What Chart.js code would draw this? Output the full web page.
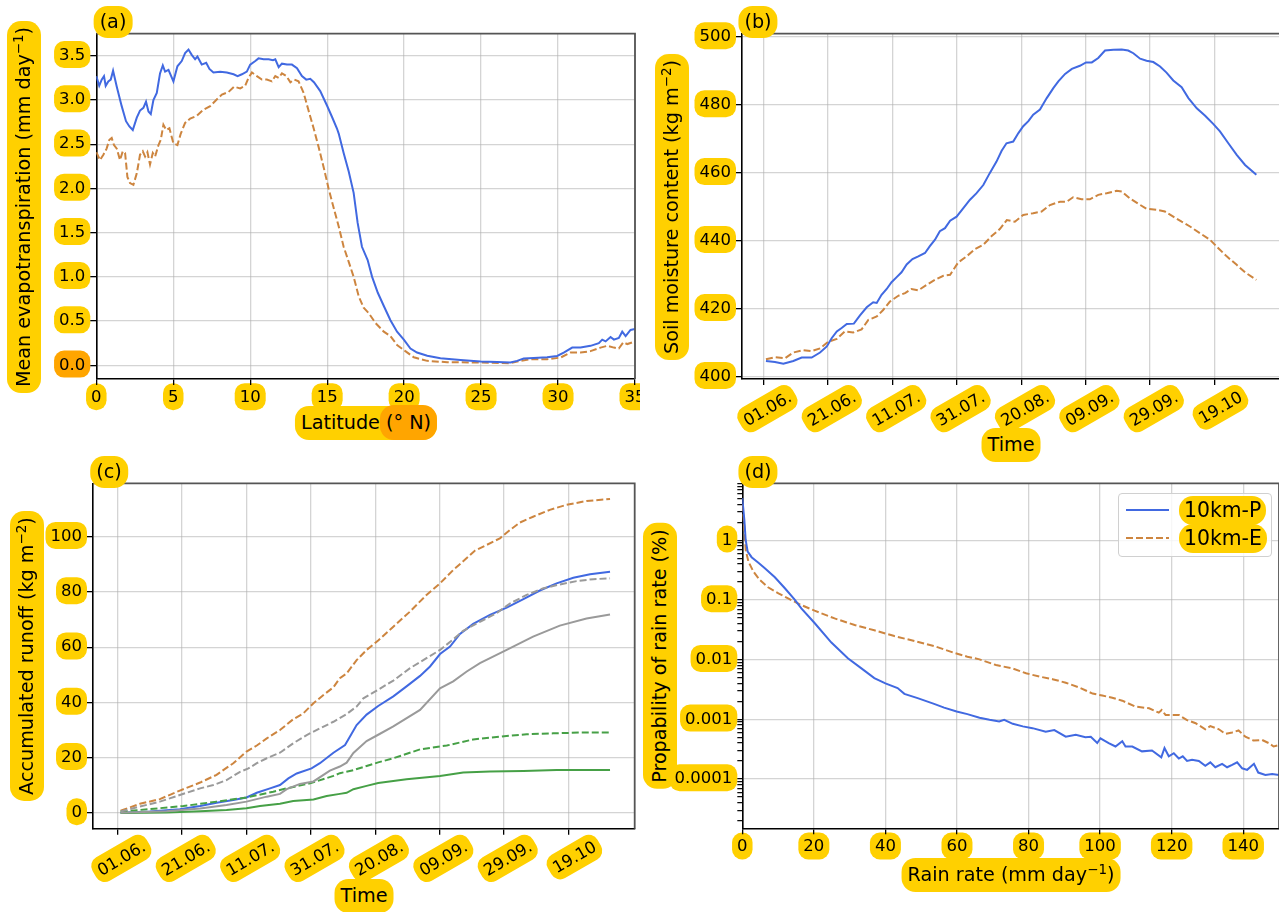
<!DOCTYPE html>
<html>
<head>
<meta charset="utf-8">
<title>Evapotranspiration, soil moisture, runoff and rain rate</title>
<script src="https://cdn.jsdelivr.net/npm/chart.js@4.4.0/dist/chart.umd.min.js"></script>
<style>
  html, body { margin: 0; padding: 0; background: #fff; width: 1279px; height: 912px; overflow: hidden; }
  body { position: relative; font-family: 'DejaVu Sans', sans-serif; color: #000; }
  canvas { position: absolute; z-index: 1; }
  .t { position: absolute; z-index: 2; white-space: nowrap; font-size: 19.2px; line-height: 22px; transform: translate(-50%, -50%); }
  .t.v { transform: translate(-50%, -50%) rotate(-90deg); }
  .t.under { z-index: 0; }
  .hl { display: inline-block; background: #FFD000; border-radius: 14px; padding: 6px 6px; }
  .or { background: #FFA500; border-radius: 14px; padding: 6px 6px; margin: 0 -6px 0 -6px; }
  sup { font-size: 0.7em; line-height: 0; vertical-align: 0.5em; }
  #legend { position: absolute; z-index: 2; left: 1118px; top: 493px; width: 152px; height: 62px; border: 1px solid #d0d0d0; border-radius: 4px; background: rgba(255,255,255,.8); }
  #legend .ln { position: absolute; left: 7px; width: 43px; height: 2px; }
  #legend .lt { position: absolute; left: 60px; font-size: 20.4px; line-height: 23px; background: #FFD000; border-radius: 14px; padding: 3px 5px; }
</style>
</head>
<body>

<canvas id="ca" width="640" height="450" style="left:0;top:0"></canvas>
<canvas id="cb" width="642" height="450" style="left:640px;top:0"></canvas>
<canvas id="cc" width="640" height="462" style="left:0;top:450px"></canvas>
<canvas id="cd" width="641" height="462" style="left:640px;top:450px"></canvas>

<!-- panel labels and axis titles -->
<div class="t" style="left:113px;top:22px"><span class="hl" style="padding:5px 6px">(a)</span></div>
<div class="t" style="left:758px;top:22px"><span class="hl" style="padding:5px 6px">(b)</span></div>
<div class="t" style="left:109px;top:472px"><span class="hl" style="padding:5px 6px">(c)</span></div>
<div class="t" style="left:758px;top:472px"><span class="hl" style="padding:5px 6px">(d)</span></div>

<div class="t v" style="left:23.5px;top:207px"><span class="hl">Mean evapotranspiration (mm day<sup>−1</sup>)</span></div>
<div class="t" style="left:366px;top:423px"><span class="hl">Latitude <span class="or">(° N)</span></span></div>

<div class="t v" style="left:672px;top:207px"><span class="hl">Soil moisture content (kg m<sup>−2</sup>)</span></div>
<div class="t" style="left:1011px;top:445px"><span class="hl">Time</span></div>

<div class="t v" style="left:27px;top:656px"><span class="hl">Accumulated runoff (kg m<sup>−2</sup>)</span></div>
<div class="t" style="left:364px;top:896px"><span class="hl">Time</span></div>

<div class="t v under" style="left:660px;top:656px"><span class="hl">Propability of rain rate (%)</span></div>
<div class="t" style="left:1011px;top:875px"><span class="hl">Rain rate (mm day<sup>−1</sup>)</span></div>

<div id="legend">
  <div class="ln" style="top:15px;background:#4169E1"></div>
  <div class="ln" style="top:43px;background:repeating-linear-gradient(90deg,#CD853F 0 7px,transparent 7px 10px)"></div>
  <span class="lt" style="top:2px">10km-P</span>
  <span class="lt" style="top:30px">10km-E</span>
</div>

<script>
// ── Data (a): mean evapotranspiration vs latitude ───────────
const latP = [0, 0.19, 0.35, 0.5, 0.61, 0.78, 0.94, 1.09, 1.33, 1.65, 1.93, 2.15, 2.37, 2.63, 2.84, 3.06, 3.23, 3.39, 3.54, 3.71,
  3.93, 4.14, 4.32, 4.47, 4.69, 5.01, 5.27, 5.55, 5.77, 5.99, 6.2, 6.42, 6.57, 6.85, 7.14, 7.35, 7.61, 8.05, 8.48, 8.92,
  9.18, 9.46, 9.78, 10.0, 10.33, 10.54, 10.87, 11.2, 11.48, 11.63, 11.85, 12.06, 12.39, 12.71, 13.04, 13.36, 13.64, 13.9, 14.14, 14.55,
  14.98, 15.31, 15.63, 15.75, 16.07, 16.4, 16.72, 16.98, 17.26, 17.63, 17.92, 18.29, 18.68, 19.11, 19.54, 19.98, 20.41, 20.84, 21.5, 22.36,
  23.66, 24.96, 26.05, 26.9, 27.34, 27.77, 28.42, 29.29, 29.94, 30.37, 30.92, 31.46, 32.11, 32.65, 32.87, 33.09, 33.41, 33.63, 33.95, 34.17,
  34.39, 34.71, 35];
const etP = [3.27, 3.16, 3.23, 3.27, 3.16, 3.21, 3.23, 3.33, 3.15, 2.93, 2.76, 2.70, 2.66, 2.80, 2.88, 2.91, 2.98, 2.87, 2.84, 3.00,
  3.08, 3.30, 3.39, 3.32, 3.34, 3.21, 3.38, 3.44, 3.53, 3.57, 3.51, 3.46, 3.49, 3.40, 3.42, 3.35, 3.31, 3.32, 3.31, 3.29,
  3.27, 3.29, 3.32, 3.40, 3.44, 3.47, 3.46, 3.46, 3.45, 3.46, 3.37, 3.41, 3.40, 3.40, 3.36, 3.27, 3.23, 3.24, 3.20, 3.10,
  2.94, 2.81, 2.68, 2.62, 2.40, 2.19, 1.95, 1.61, 1.34, 1.19, 1.00, 0.82, 0.67, 0.51, 0.38, 0.29, 0.19, 0.144, 0.107, 0.08,
  0.061, 0.042, 0.038, 0.031, 0.05, 0.076, 0.083, 0.091, 0.106, 0.144, 0.2, 0.2, 0.22, 0.25, 0.29, 0.27, 0.32, 0.29, 0.31, 0.38,
  0.33, 0.40, 0.41];
const latE = [0, 0.24, 0.46, 0.67, 0.85, 1.0, 1.15, 1.33, 1.54, 1.72, 1.87, 2.02, 2.19, 2.41, 2.63, 2.84, 3.02, 3.17, 3.32, 3.49,
  3.67, 3.82, 4.04, 4.19, 4.36, 4.54, 4.75, 5.01, 5.27, 5.49, 5.77, 6.1, 6.53, 6.96, 7.4, 7.79, 8.16, 8.59, 8.96, 9.35,
  9.67, 9.89, 10.11, 10.43, 10.76, 11.08, 11.41, 11.63, 11.85, 12.06, 12.35, 12.61, 12.87, 13.14, 13.47, 13.79, 14.12, 14.44, 14.77, 15.09,
  15.42, 15.75, 16.07, 16.4, 16.72, 17.05, 17.37, 17.7, 18.13, 18.68, 19.11, 19.54, 20.08, 20.63, 21.5, 22.8, 24.96, 26.9, 27.55, 28.2,
  29.29, 30.16, 30.81, 31.46, 32.11, 32.76, 33.2, 33.63, 33.95, 34.24, 34.5, 35];
const etE = [2.41, 2.32, 2.38, 2.45, 2.55, 2.57, 2.49, 2.45, 2.32, 2.42, 2.40, 2.13, 2.06, 2.04, 2.17, 2.38, 2.42, 2.36, 2.41, 2.27,
  2.40, 2.36, 2.49, 2.55, 2.72, 2.66, 2.68, 2.51, 2.49, 2.62, 2.74, 2.79, 2.82, 2.89, 2.93, 3.00, 3.06, 3.09, 3.15, 3.13,
  3.16, 3.25, 3.31, 3.27, 3.23, 3.23, 3.21, 3.27, 3.25, 3.30, 3.27, 3.20, 3.23, 3.21, 3.08, 2.88, 2.68, 2.47, 2.24, 2.00,
  1.78, 1.57, 1.34, 1.17, 1.00, 0.78, 0.65, 0.59, 0.48, 0.38, 0.33, 0.23, 0.16, 0.09, 0.05, 0.035, 0.031, 0.024, 0.05, 0.068,
  0.068, 0.087, 0.144, 0.144, 0.16, 0.2, 0.22, 0.2, 0.19, 0.26, 0.24, 0.27];

// ── Data (b): soil moisture, days after 1 June ──────────────
const smDayP = [0.7, 3.5, 6.1, 9.2, 11.8, 14.9, 17.5, 19.6, 21.1, 22.7, 24.2, 25.8, 28.0, 29.9, 32.0, 34.0, 35.1, 36.6, 38.2, 39.7,
  41.3, 42.8, 44.4, 46.2, 48.0, 50.1, 51.6, 53.2, 54.7, 56.3, 57.9, 59.9, 62.0, 64.0, 66.1, 68.2, 70.2, 72.3, 73.9, 75.4,
  77.5, 79.1, 80.6, 82.2, 83.7, 85.8, 87.9, 90.0, 91.5, 93.6, 95.7, 98.2, 100.1, 101.9, 103.9, 106.0, 108.6, 111.2, 113.2, 114.8,
  116.9, 118.9, 121.0, 123.1, 125.1, 127.2, 129.8, 131.9, 134.5, 137.1, 139.6, 141.7, 144.3, 146.9, 149.5, 153.0];
const smP = [404.6, 404.3, 403.8, 404.6, 405.6, 405.6, 407.1, 408.9, 411.3, 413.3, 414.3, 415.5, 415.6, 418.0, 420.4, 421.9, 421.7, 424.1, 425.8, 427.8,
  429.3, 430.7, 433.0, 434.6, 435.4, 436.4, 438.4, 440.3, 442.8, 443.7, 445.9, 447.1, 449.6, 452.0, 454.0, 456.4, 459.9, 463.3, 466.5, 468.7,
  469.2, 471.7, 473.7, 475.2, 477.1, 478.6, 482.0, 485.0, 486.9, 489.1, 490.6, 491.5, 492.5, 492.5, 493.8, 496.0, 496.2, 496.3, 496.0, 495.2,
  493.6, 493.0, 492.6, 491.3, 489.5, 487.2, 485.2, 482.0, 479.0, 476.8, 474.4, 472.2, 468.7, 465.3, 462.3, 459.4];
const smDayE = [0.7, 3.5, 6.6, 9.2, 12.3, 14.9, 17.5, 20.1, 22.7, 25.2, 27.8, 30.4, 32.5, 35.1, 37.1, 39.2, 41.8, 43.9, 45.9, 48.0,
  50.6, 53.2, 55.8, 57.9, 60.4, 63.0, 65.6, 68.2, 70.8, 73.4, 75.5, 78.0, 80.6, 83.7, 86.3, 88.9, 92.0, 94.1, 96.1, 98.7,
  101.3, 103.9, 106.5, 109.6, 111.2, 113.7, 116.3, 118.9, 122.0, 124.6, 127.2, 129.8, 132.4, 135.5, 138.6, 141.2, 143.8, 146.9, 149.5, 153.0];
const smE = [405.1, 405.7, 405.4, 407.1, 407.8, 407.5, 408.3, 410.3, 411.1, 413.3, 413.0, 413.9, 416.7, 417.7, 419.6, 422.1, 423.8, 424.6, 425.8, 425.4,
  427.0, 428.5, 429.7, 430.0, 433.6, 435.4, 437.5, 438.8, 441.4, 443.5, 446.1, 445.6, 447.6, 448.1, 448.6, 450.5, 451.5, 451.5, 452.8, 452.2,
  452.2, 453.5, 454.0, 454.7, 454.5, 452.5, 450.9, 449.4, 449.1, 448.6, 447.1, 445.6, 444.2, 442.2, 440.3, 437.8, 435.4, 432.9, 430.7, 428.5];

// ── Data (c): accumulated runoff, days after 1 June ─────────
const roDayP = [0.9, 10.0, 19.3, 25.6, 30.7, 35.9, 40.0, 43.2, 47.3, 50.4, 53.0, 55.6, 60.2, 62.8, 67.0, 70.6, 72.1, 74.2, 77.3, 80.9,
  85.6, 89.7, 93.9, 97.0, 100.1, 103.2, 106.3, 110.4, 115.6, 120.8, 126.0, 131.1, 136.3, 141.5, 146.7, 152.9];
const roP = [0.1, 0.5, 1.3, 2.5, 3.7, 4.7, 5.6, 7.3, 8.9, 10.1, 12.5, 14.3, 16.1, 18.0, 21.8, 24.6, 27.6, 31.8, 35.6, 38.7,
  42.2, 45.8, 49.6, 53.0, 57.5, 60.2, 64.8, 68.4, 71.7, 74.3, 77.4, 80.5, 83.1, 85.1, 86.4, 87.3];
const roDayE = [0.9, 6.9, 13.1, 19.3, 25.6, 30.7, 35.9, 40.0, 43.2, 46.3, 50.4, 54.5, 57.6, 60.8, 63.9, 67.0, 69.0, 71.1, 74.2, 77.3,
  80.9, 85.6, 90.8, 95.9, 100.1, 104.2, 107.8, 110.9, 114.6, 118.7, 121.8, 124.9, 129.0, 134.2, 139.4, 145.6, 152.9];
const roE = [0.8, 3.3, 5.0, 8.1, 11.0, 13.8, 18.0, 22.2, 24.4, 27.0, 30.0, 33.9, 36.0, 39.7, 42.7, 45.5, 48.8, 50.5, 55.3, 59.0,
  62.4, 67.4, 72.9, 78.9, 83.1, 87.9, 91.6, 94.9, 97.0, 99.4, 102.4, 105.1, 107.2, 109.7, 111.5, 112.9, 113.6];
const roDayGrayE = [0.9, 6.9, 13.1, 19.3, 25.6, 29.7, 33.8, 38.0, 40.6, 43.2, 46.3, 50.4, 54.5, 58.7, 62.8, 67.0, 71.1, 74.2, 76.3, 80.9,
  85.6, 90.8, 95.9, 100.1, 104.2, 107.3, 112.5, 117.7, 121.8, 127.0, 132.2, 137.3, 142.5, 147.7, 152.9];
const roGrayE = [0.5, 2.3, 4.1, 6.5, 8.9, 10.1, 11.9, 14.9, 16.1, 18.0, 19.8, 21.8, 25.2, 28.2, 30.6, 33.0, 35.8, 38.5, 41.5, 44.6,
  47.9, 52.4, 56.0, 59.0, 62.8, 65.9, 69.2, 72.3, 75.8, 78.9, 81.3, 82.7, 83.9, 84.6, 84.9];
const roDayGrayP = [0.9, 15.2, 25.6, 33.8, 40.0, 46.3, 50.4, 52.5, 56.6, 60.8, 65.9, 69.0, 71.1, 73.2, 77.3, 80.9, 85.6, 93.9, 100.1, 104.2,
  108.4, 112.5, 120.8, 129.0, 137.3, 145.6, 152.9];
const roGrayP = [0.1, 0.6, 1.6, 2.9, 4.1, 5.9, 6.9, 8.6, 10.5, 11.4, 15.3, 16.8, 18.2, 21.7, 26.0, 28.3, 31.3, 37.3, 45.1, 47.6,
  51.2, 54.2, 59.0, 63.8, 67.8, 70.4, 71.8];
const roDayGreenE = [0.9, 10.0, 20.4, 30.7, 40.0, 48.3, 52.5, 59.7, 67.0, 69.0, 73.2, 77.3, 80.9, 85.6, 93.9, 102.2, 110.4, 118.7, 127.0, 135.2,
  143.5, 152.9];
const roGreenE = [0.5, 1.4, 2.5, 4.1, 5.6, 7.7, 8.9, 10.7, 13.4, 14.4, 15.5, 17.0, 18.3, 19.8, 23.0, 24.4, 26.6, 27.6, 28.5, 28.8,
  29.1, 29.1];
const roDayGreenP = [0.9, 15.2, 25.6, 33.8, 40.0, 44.2, 50.4, 54.5, 60.8, 64.9, 69.0, 71.1, 73.2, 77.3, 80.9, 89.7, 100.1, 107.3, 115.6, 126.0,
  136.3, 152.9];
const roGreenP = [0.0, 0.2, 0.6, 1.1, 1.7, 2.5, 3.3, 4.3, 4.9, 6.1, 6.9, 7.3, 8.6, 9.8, 10.8, 12.2, 13.4, 14.6, 15.0, 15.2,
  15.5, 15.5];

// ── Data (d): probability of rain rate (%) ──────────────────
const rateP = [0, 0.57, 0.94, 1.5, 2.6, 4.5, 6.3, 9.1, 11.9, 14.7, 16.5, 20.2, 24.9, 29.5, 33.2, 36.9, 40.0, 43.4, 45.3, 49.0,
  53.6, 56.4, 59.9, 62.9, 66.3, 69.1, 71.8, 73.2, 75.6, 78.4, 81.1, 84.8, 87.2, 90.4, 93.2, 95.9, 97.4, 99.2, 100.1, 102.4,
  104.3, 106.2, 107.1, 109.0, 111.7, 114.5, 117.1, 118.0, 119.2, 120.6, 122.0, 123.1, 124.3, 125.7, 127.6, 129.4, 130.8, 132.2, 134.1, 135.5,
  136.9, 138.3, 139.7, 141.1, 143.0, 144.2, 146.2, 148.1, 150];
const probP = [5.1, 2.19, 1.01, 0.645, 0.52, 0.42, 0.34, 0.24, 0.157, 0.1, 0.072, 0.041, 0.0193, 0.0105, 0.0072, 0.0049, 0.0040, 0.00333, 0.00267, 0.00226,
  0.00181, 0.00157, 0.00135, 0.00122, 0.00106, 0.00098, 0.00092, 0.00098, 0.00084, 0.00076, 0.00071, 0.00062, 0.00066, 0.00051, 0.00055, 0.0005, 0.00051, 0.0004, 0.00048, 0.0004,
  0.00035, 0.00043, 0.00035, 0.00035, 0.00029, 0.0003, 0.00023, 0.00033, 0.00024, 0.00027, 0.00022, 0.00024, 0.0002, 0.00021, 0.0002, 0.000166, 0.00019, 0.000157, 0.000179, 0.000157,
  0.000172, 0.00019, 0.000151, 0.000142, 0.000179, 0.000128, 0.000117, 0.000121, 0.000117];
const rateE = [0, 0.57, 0.94, 1.7, 3.1, 4.9, 7.2, 10.1, 12.8, 16.5, 20.2, 25.8, 31.4, 36.9, 42.5, 48.1, 53.6, 59.2, 62.9, 66.3,
  70.9, 75.6, 79.3, 83.0, 86.7, 90.4, 94.2, 97.9, 100.6, 103.4, 106.2, 109.9, 113.7, 116.4, 117.2, 118.3, 122.0, 124.3, 126.7, 129.4,
  130.8, 133.2, 135.0, 136.9, 138.7, 140.6, 142.9, 145.3, 147.1, 148.5, 150];
const probE = [4.0, 1.69, 0.69, 0.44, 0.298, 0.216, 0.163, 0.129, 0.106, 0.082, 0.066, 0.049, 0.038, 0.031, 0.0248, 0.0205, 0.0169, 0.013, 0.0112, 0.0101,
  0.0081, 0.0071, 0.0059, 0.0052, 0.0047, 0.0041, 0.0034, 0.0027, 0.0025, 0.0023, 0.00205, 0.00163, 0.00153, 0.00129, 0.00143, 0.00118, 0.00118, 0.00097, 0.00086, 0.00068,
  0.00077, 0.00068, 0.00057, 0.0006, 0.00065, 0.00051, 0.00044, 0.00045, 0.0004, 0.00035, 0.00037];

// ── Ticks ───────────────────────────────────────────────────
const latTicks = [0, 5, 10, 15, 20, 25, 30, 35];
const etTicks = [0, 0.5, 1, 1.5, 2, 2.5, 3, 3.5];
const etLabels = ['0.0', '0.5', '1.0', '1.5', '2.0', '2.5', '3.0', '3.5'];
const dayTicks = [0, 20, 40, 60, 80, 100, 120, 140];
const dateLabels = ['01.06.', '21.06.', '11.07.', '31.07.', '20.08.', '09.09.', '29.09.', '19.10'];
const smTicks = [400, 420, 440, 460, 480, 500];
const roTicks = [0, 20, 40, 60, 80, 100];
const rateTicks = [0, 20, 40, 60, 80, 100, 120, 140];
const probTicks = [0.0001, 0.001, 0.01, 0.1, 1];
const probLabels = ['0.0001', '0.001', '0.01', '0.1', '1'];

// ── Styling helpers ─────────────────────────────────────────
const BLUE = '#4169E1', ORANGE = '#CD853F', GRAY = '#9a9a9a', GREEN = '#46a046';
const FONT = "'DejaVu Sans', sans-serif";
const TICK_FONT = { family: FONT, size: 16.5 };
const GRID = 'rgba(176,176,176,0.55)';

Chart.defaults.font.family = FONT;

const pts = (xs, ys) => xs.map((x, i) => ({ x: x, y: ys[i] }));

function line(xs, ys, color, dashed) {
  return {
    data: pts(xs, ys), borderColor: color, borderWidth: 2, borderDash: dashed ? [7, 3] : [],
    pointRadius: 0, tension: 0, fill: false
  };
}

// yellow pill behind every tick label
const pillPlugin = {
  id: 'pills',
  beforeDraw(chart, args, opts) {
    const ctx = chart.ctx;
    Object.values(chart.scales).forEach(scale => {
      scale.getLabelItems().forEach(item => {
        const text = item.label;
        if (!text) return;
        const o = item.options;
        ctx.save();
        ctx.translate(o.translation[0], o.translation[1]);
        ctx.rotate(o.rotation);
        ctx.font = item.font.string;
        ctx.textAlign = o.textAlign;
        ctx.textBaseline = o.textBaseline;
        const m = ctx.measureText(text);
        const w = m.width;
        let x0 = 0;
        if (o.textAlign === 'right' || o.textAlign === 'end') x0 = -w;
        else if (o.textAlign === 'center') x0 = -w / 2;
        const y0 = item.textOffset - m.fontBoundingBoxAscent;
        const h = m.fontBoundingBoxAscent + m.fontBoundingBoxDescent;
        ctx.fillStyle = (opts.special && opts.special[text]) || '#FFD000';
        ctx.beginPath();
        ctx.roundRect(x0 - 5, y0 - 4, w + 10, h + 8, 10);
        ctx.fill();
        ctx.restore();
      });
    });
  }
};

// top and right spines
const framePlugin = {
  id: 'frame',
  afterDraw(chart) {
    const { ctx, chartArea: a } = chart;
    ctx.save();
    ctx.strokeStyle = '#555';
    ctx.lineWidth = 1.8;
    ctx.beginPath();
    ctx.moveTo(a.left, a.top);
    ctx.lineTo(a.right, a.top);
    ctx.lineTo(a.right, a.bottom);
    ctx.stroke();
    ctx.restore();
  }
};

function xScale(o) {
  return {
    type: 'linear', min: o.min, max: o.max,
    afterBuildTicks: s => { s.ticks = o.ticks.map(v => ({ value: v })); },
    afterFit: s => { s.height = o.h; s.paddingLeft = 0; s.paddingRight = 0; },
    ticks: {
      autoSkip: false, minRotation: o.rot || 0, maxRotation: o.rot || 0,
      labelOffset: o.rot ? 27 : 0,
      padding: 3, color: '#000', font: TICK_FONT,
      callback: (v, i) => o.labels[i]
    },
    grid: { color: GRID, lineWidth: 1.3, tickLength: 6, tickColor: '#000', tickWidth: 1.3 },
    border: { color: '#000', width: 1.6 }
  };
}

function yScale(o) {
  return {
    type: 'linear', min: o.min, max: o.max,
    afterBuildTicks: s => { s.ticks = o.ticks.map(v => ({ value: v })); },
    afterFit: s => { s.width = o.w; s.paddingTop = 0; s.paddingBottom = 0; },
    ticks: { padding: 5, color: '#000', font: TICK_FONT, callback: (v, i) => o.labels[i] },
    grid: { color: GRID, lineWidth: 1.3, tickLength: 6, tickColor: '#000', tickWidth: 1.3 },
    border: { color: '#000', width: 1.6 }
  };
}

function makeChart(id, datasets, scales, pad, special) {
  return new Chart(document.getElementById(id), {
    type: 'line',
    data: { datasets: datasets },
    options: {
      responsive: false, animation: false, devicePixelRatio: 1,
      layout: { padding: pad },
      plugins: { legend: { display: false }, tooltip: { enabled: false }, pills: { special: special || {} } },
      scales: scales
    },
    plugins: [pillPlugin, framePlugin]
  });
}

// ── (a) Evapotranspiration ──────────────────────────────────
makeChart('ca', [
  line(latP, etP, BLUE, false),
  line(latE, etE, ORANGE, true)
], {
  x: xScale({ min: 0, max: 35, ticks: latTicks, labels: latTicks.map(String), h: 71 }),
  y: yScale({ min: -0.155, max: 3.749, ticks: etTicks, labels: etLabels, w: 96.3 })
}, { top: 33.7, right: 5, left: 0, bottom: 0 }, { '0.0': '#FFA500' });

// ── (b) Soil moisture ───────────────────────────────────────
makeChart('cb', [
  line(smDayP, smP, BLUE, false),
  line(smDayE, smE, ORANGE, true)
], {
  x: xScale({ min: -6.74, max: 160.5, ticks: dayTicks, labels: dateLabels, h: 71, rot: 30 }),
  y: yScale({ min: 399.3, max: 500.95, ticks: smTicks, labels: smTicks.map(String), w: 102 })
}, { top: 33.7, right: 1.5, left: 0, bottom: 0 });

// ── (c) Accumulated runoff ──────────────────────────────────
makeChart('cc', [
  line(roDayGrayP, roGrayP, GRAY, false),
  line(roDayGrayE, roGrayE, GRAY, true),
  line(roDayGreenP, roGreenP, GREEN, false),
  line(roDayGreenE, roGreenE, GREEN, true),
  line(roDayP, roP, BLUE, false),
  line(roDayE, roE, ORANGE, true)
], {
  x: xScale({ min: -7.67, max: 160.56, ticks: dayTicks, labels: dateLabels, h: 83.3, rot: 30 }),
  y: yScale({ min: -5.7, max: 119.3, ticks: roTicks, labels: roTicks.map(String), w: 93 })
}, { top: 33.3, right: 5.3, left: 0, bottom: 0 });

// ── (d) Rain rate distribution ──────────────────────────────
const probMin = 1.49e-5, probMax = 9.0;
makeChart('cd', [
  line(rateP, probP, BLUE, false),
  line(rateE, probE, ORANGE, true)
], {
  x: xScale({ min: 0, max: 150, ticks: rateTicks, labels: rateTicks.map(String), h: 83.7 }),
  y: {
    type: 'logarithmic', min: probMin, max: probMax,
    afterBuildTicks: s => {
      const t = [];
      for (let e = -5; e <= 0; e++) {
        for (let k = 1; k <= 9; k++) {
          const v = k * Math.pow(10, e);
          if (v >= probMin && v <= probMax) t.push({ value: v, major: k === 1 && e >= -4 });
        }
      }
      s.ticks = t;
    },
    afterFit: s => { s.width = 102.3; s.paddingTop = 0; s.paddingBottom = 0; },
    ticks: {
      padding: 5, color: '#000', font: TICK_FONT, autoSkip: false,
      callback: (v, i, t) => t[i].major ? probLabels[Math.round(Math.log10(v)) + 4] : ''
    },
    grid: {
      color: c => (c.tick && c.tick.major) ? GRID : 'rgba(0,0,0,0)',
      lineWidth: 1.3, tickLength: 5, tickColor: '#000', tickWidth: 1.2
    },
    border: { color: '#000', width: 1.6 }
  }
}, { top: 33.3, right: 2, left: 0, bottom: 0 });
</script>
</body>
</html>
